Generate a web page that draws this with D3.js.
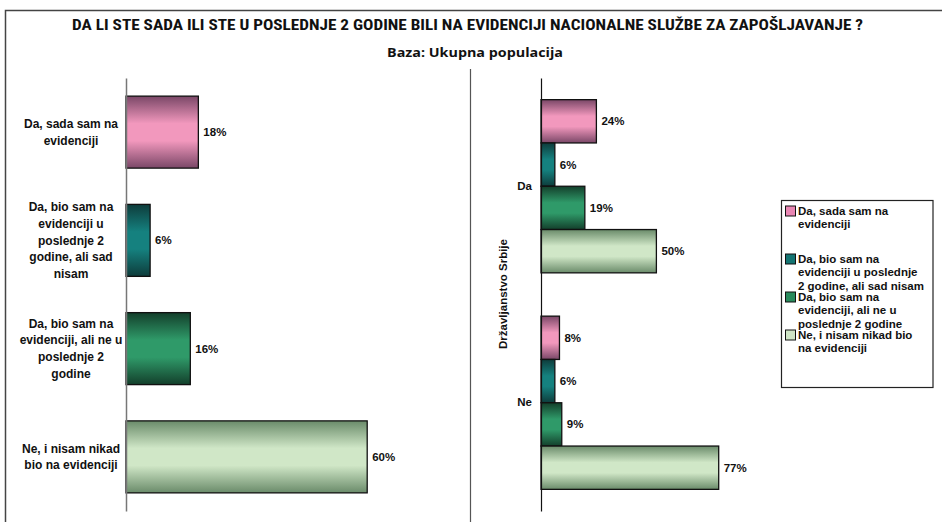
<!DOCTYPE html>
<html>
<head>
<meta charset="utf-8">
<script src="https://cdn.jsdelivr.net/npm/d3@7"></script>
<style>
  body { margin: 0; background: #fff; }
  text { font-family: "Liberation Sans", Arial, sans-serif; font-weight: bold; fill: #111; }
</style>
</head>
<body>
<div id="chart"></div>
<script>
// answer categories (same order in both panels)
var categories = [
    "Da, sada sam na evidenciji",
    "Da, bio sam na evidenciji u poslednje 2 godine, ali sad nisam",
    "Da, bio sam na evidenciji, ali ne u poslednje 2 godine",
    "Ne, i nisam nikad bio na evidenciji"
];
// wrapped as in the picture
var categoryLines = [
    ["Da, sada sam na", "evidenciji"],
    ["Da, bio sam na", "evidenciji u", "poslednje 2", "godine, ali sad", "nisam"],
    ["Da, bio sam na", "evidenciji, ali ne u", "poslednje 2", "godine"],
    ["Ne, i nisam nikad", "bio na evidenciji"]
];
var legendLines = [
    ["Da, sada sam na", "evidenciji"],
    ["Da, bio sam na", "evidenciji u poslednje", "2 godine, ali sad nisam"],
    ["Da, bio sam na", "evidenciji, ali ne u", "poslednje 2 godine"],
    ["Ne, i nisam nikad bio", "na evidenciji"]
];
var totalValues = [18, 6, 16, 60];

var groups = ["Da", "Ne"];
var daValues = [24, 6, 19, 50];
var neValues = [8, 6, 9, 77];
var groupValues = [daValues, neValues];

var title = "DA LI STE SADA ILI STE U POSLEDNJE  2 GODINE BILI NA EVIDENCIJI NACIONALNE  SLUŽBE ZA ZAPOŠLJAVANJE ?";
var subtitle = "Baza: Ukupna populacija";
var axisTitle = "Državljanstvo Srbije";

var width = 949, height = 522;

// gradient colours: edge, centre
var shades = [
    ["#7a4767", "#f298bd"],
    ["#0e3c3b", "#15817f"],
    ["#133f2b", "#2f9a69"],
    ["#6a8b6a", "#d0e7c7"]
];
var swatch = ["#e986b3", "#137472", "#288a5c", "#cfe5c6"];

var svg = d3.select("#chart")
    .append("svg")
    .attr("width", width)
    .attr("height", height);

var defs = svg.append("defs");
shades.forEach(function(s, i) {
    var g = defs.append("linearGradient")
        .attr("id", "grad" + i)
        .attr("x1", 0).attr("y1", 0).attr("x2", 0).attr("y2", 1);
    g.append("stop").attr("offset", "0%").attr("stop-color", s[0]);
    g.append("stop").attr("offset", "38%").attr("stop-color", s[1]);
    g.append("stop").attr("offset", "62%").attr("stop-color", s[1]);
    g.append("stop").attr("offset", "100%").attr("stop-color", s[0]);
});

// frame: only top and left edges show in the picture
svg.append("path")
    .attr("d", "M5.5," + height + "V10.5H942")
    .attr("fill", "none")
    .attr("stroke", "#444")
    .attr("stroke-width", 1.5);

// titles
svg.append("text")
    .attr("x", 467.5).attr("y", 30)
    .attr("text-anchor", "middle")
    .attr("font-size", "15px")
    .style("font-family", "'Roboto Condensed', 'DejaVu Sans Condensed', sans-serif")
    .attr("textLength", 791)
    .attr("lengthAdjust", "spacingAndGlyphs")
    .text(title);

svg.append("text")
    .attr("x", 475).attr("y", 56.5)
    .attr("text-anchor", "middle")
    .attr("font-size", "13px")
    .style("font-family", "'Open Sans', sans-serif")
    .attr("textLength", 176)
    .attr("lengthAdjust", "spacingAndGlyphs")
    .text(subtitle);

// divider between panels
svg.append("line")
    .attr("x1", 470.5).attr("x2", 470.5)
    .attr("y1", 69).attr("y2", height)
    .attr("stroke", "#555")
    .attr("stroke-width", 1.2);

// ---------- left panel: total ----------
var xL = d3.scaleLinear().domain([0, 70]).range([126, 407.4]);
var yL = d3.scaleBand()
    .domain(categories)
    .range([78, 511])
    .paddingInner(0.335)
    .paddingOuter(0.1675);

svg.selectAll(".barL")
    .data(totalValues)
    .enter().append("rect")
    .attr("class", "barL")
    .attr("x", xL(0))
    .attr("y", function(d, i) { return yL(categories[i]); })
    .attr("width", function(d) { return xL(d) - xL(0); })
    .attr("height", yL.bandwidth())
    .attr("fill", function(d, i) { return "url(#grad" + i + ")"; })
    .attr("stroke", "#111")
    .attr("stroke-width", 1.3);

svg.selectAll(".valL")
    .data(totalValues)
    .enter().append("text")
    .attr("class", "valL")
    .attr("x", function(d) { return xL(d) + 5; })
    .attr("y", function(d, i) { return yL(categories[i]) + yL.bandwidth() / 2; })
    .attr("dy", "0.35em")
    .attr("font-size", "11.5px")
    .text(function(d) { return d + "%"; });

var gL = svg.append("g")
    .attr("transform", "translate(" + xL(0) + ",0)")
    .call(d3.axisLeft(yL).tickSize(0).tickFormat(""));
gL.select(".domain").attr("stroke", "#777").attr("stroke-width", 1.5);

var lineH = 16.7;
categoryLines.forEach(function(lines, i) {
    var cy = yL(categories[i]) + yL.bandwidth() / 2;
    var t = svg.append("text")
        .attr("text-anchor", "middle")
        .attr("font-size", "12px")
        .attr("y", cy - (lines.length - 1) * lineH / 2);
    lines.forEach(function(l, j) {
        t.append("tspan")
            .attr("x", 71)
            .attr("dy", j === 0 ? "0.35em" : lineH)
            .text(l);
    });
});

// ---------- right panel: by citizenship ----------
var xR = d3.scaleLinear().domain([0, 90]).range([541, 748.7]);
var yR = d3.scaleBand()
    .domain(groups)
    .range([78, 511])
    .paddingInner(0.2)
    .paddingOuter(0.1);
var yIn = d3.scaleBand()
    .domain(categories)
    .range([0, yR.bandwidth()]);

var grp = svg.selectAll(".grp")
    .data(groups)
    .enter().append("g")
    .attr("class", "grp")
    .attr("transform", function(d) { return "translate(0," + yR(d) + ")"; });

grp.selectAll("rect")
    .data(function(d, gi) { return groupValues[gi]; })
    .enter().append("rect")
    .attr("x", xR(0))
    .attr("y", function(d, i) { return yIn(categories[i]); })
    .attr("width", function(d) { return xR(d) - xR(0); })
    .attr("height", yIn.bandwidth())
    .attr("fill", function(d, i) { return "url(#grad" + i + ")"; })
    .attr("stroke", "#111")
    .attr("stroke-width", 1.3);

grp.selectAll("text")
    .data(function(d, gi) { return groupValues[gi]; })
    .enter().append("text")
    .attr("x", function(d) { return xR(d) + 5; })
    .attr("y", function(d, i) { return yIn(categories[i]) + yIn.bandwidth() / 2; })
    .attr("dy", "0.35em")
    .attr("font-size", "11.5px")
    .text(function(d) { return d + "%"; });

var gR = svg.append("g")
    .attr("transform", "translate(" + xR(0) + ",0)")
    .call(d3.axisLeft(yR).tickSize(0).tickPadding(9));
gR.select(".domain").attr("stroke", "#111").attr("stroke-width", 1.2);
gR.selectAll("text")
    .attr("font-size", "11.5px")
    .style("font-family", "'Liberation Sans', Arial, sans-serif")
    .attr("fill", "#111");

svg.append("text")
    .attr("transform", "translate(507,294) rotate(-90)")
    .attr("text-anchor", "middle")
    .attr("font-size", "11.5px")
    .text(axisTitle);

// ---------- legend ----------
var legend = svg.append("g").attr("transform", "translate(781.5,200.5)");
legend.append("rect")
    .attr("width", 151.5).attr("height", 187)
    .attr("fill", "#fff")
    .attr("stroke", "#222")
    .attr("stroke-width", 1.2);

var itemTop = [10.5, 58.5, 96.5, 134.5];
var legH = 13.3;
legendLines.forEach(function(lines, i) {
    var item = legend.append("g").attr("transform", "translate(0," + itemTop[i] + ")");
    item.append("rect")
        .attr("x", 4).attr("y", -5)
        .attr("width", 10).attr("height", 10)
        .attr("fill", swatch[i])
        .attr("stroke", "#111")
        .attr("stroke-width", 1);
    var t = item.append("text").attr("font-size", "11.5px").attr("y", 0);
    lines.forEach(function(l, j) {
        t.append("tspan")
            .attr("x", 16.5)
            .attr("dy", j === 0 ? "0.35em" : legH)
            .text(l);
    });
});
</script>
</body>
</html>
